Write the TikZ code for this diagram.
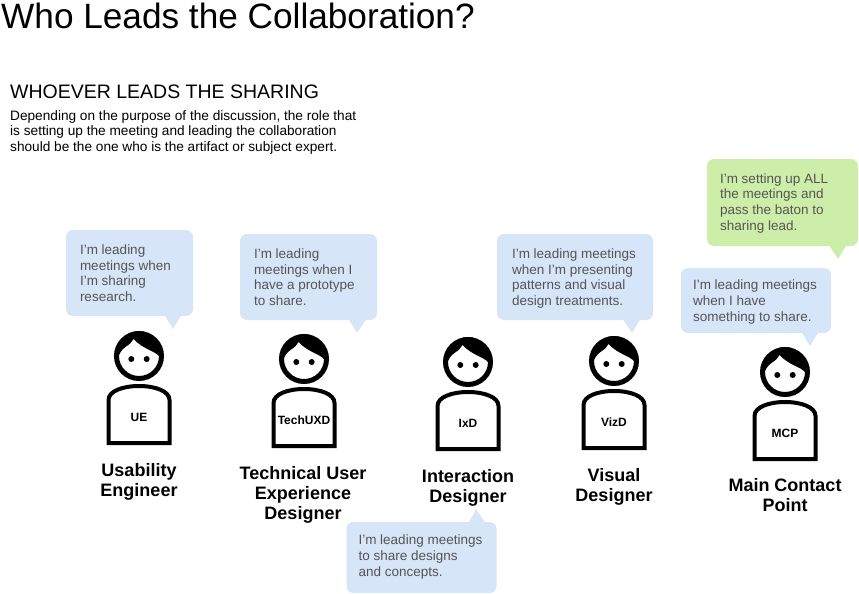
\documentclass[tikz,border=0pt]{standalone}
\usepackage{fontspec}
\setmainfont{Liberation Sans}
\definecolor{bubbleblue}{HTML}{D6E5F7}
\definecolor{bubblegreen}{HTML}{CDEEA8}
\definecolor{bubbletext}{HTML}{555555}
\tikzset{
	bubble/.style={rounded corners=7pt, inner sep=0pt, text=bubbletext, align=flush left, font=\fontsize{13.5}{15.7}\selectfont, execute at begin node={\rule{0pt}{\dimexpr 11pt+#1pt\relax}}, execute at end node=\strut},
	bubble/.default=4,
	rolename/.style={inner sep=0pt, align=center, font=\bfseries\fontsize{18}{20}\selectfont},
	badge/.style={inner sep=0pt, font=\bfseries\fontsize{12}{14}\selectfont},
	person/.pic={
		\draw [line width=5pt, fill=white] (0,0) circle (22.5);
		\fill (-21,2) .. controls (-24,-12) and (-12,-25) .. (0,-25) .. controls (12,-25) and (24,-12) .. (21,1) .. controls (15,-6) and (5,-6) .. (-5.5,-17) .. controls (-8,-10) and (-18,-10) .. (-21,2) -- cycle;
		\fill (-7.7,3) circle (3);
		\fill (7.7,3) circle (3);
		\draw [line width=4pt, line join=miter] (-30.5,87) -- (-30.5,44) .. controls (-30.5,35) and (-16,30) .. (0,30) .. controls (16,30) and (30.5,35) .. (30.5,44) -- (30.5,87) -- cycle;
	}
}
\begin{document}
\begin{tikzpicture}[x=1pt, y=-1pt]
	\useasboundingbox (0,0) rectangle (859,594);
	% headings
	\node [anchor=base west, inner sep=0pt, font=\fontsize{35.2}{40}\selectfont] (title) at (1,29) {Who Leads the Collaboration?};
	\node [anchor=base west, inner sep=0pt, font=\fontsize{19.5}{22}\selectfont] (subtitle) at (10,99) {WHOEVER LEADS THE SHARING};
	\node [anchor=north west, inner sep=0pt, align=left, font=\fontsize{13.65}{15.7}\selectfont] (intro) at (10,110) {Depending on the purpose of the discussion, the role that\\is setting up the meeting and leading the collaboration\\should be the one who is the artifact or subject expert.};
	% people
	\foreach \name/\x/\y/\tag in {ue/139/356/UE, tech/304/359/TechUXD, ixd/468/362/IxD, viz/614/361/VizD, mcp/785/372/MCP} {
		\pic (\name) at (\x,\y) {person};
		\node [badge] (\name badge) at (\x,\y+61) {\tag};
	}
	% names
	\node [rolename] (uename) at (139,482) {Usability\\Engineer};
	\node [rolename] (techname) at (303,494.5) {Technical User\\Experience\\Designer};
	\node [rolename] (ixdname) at (468,488) {Interaction\\Designer};
	\node [rolename] (vizname) at (614,487) {Visual\\Designer};
	\node [rolename] (mcpname) at (785,495) {Main Contact\\Point};
	% speech bubbles
	\fill [bubbleblue] (164,314) -- (173,329) -- (182,314) -- cycle;
	\node [bubble, fill=bubbleblue, minimum width=127pt, minimum height=86pt, text width=99pt] (uesay) at (129.5,273) {I’m leading\\meetings when\\I’m sharing\\research.};
	\fill [bubbleblue] (348,318) -- (357,333) -- (367,318) -- cycle;
	\node [bubble, fill=bubbleblue, minimum width=137pt, minimum height=86pt, text width=109pt] (techsay) at (308.5,277) {I’m leading\\meetings when I\\have a prototype\\to share.};
	\fill [bubbleblue] (468,524) -- (476,509) -- (486,524) -- cycle;
	\node [bubble=0, fill=bubbleblue, minimum width=150pt, minimum height=71pt, text width=126pt] (ixdsay) at (421.5,557.5) {I’m leading meetings\\to share designs\\and concepts.};
	\fill [bubbleblue] (622,318) -- (632,333) -- (641,318) -- cycle;
	\node [bubble, fill=bubbleblue, minimum width=156pt, minimum height=86pt, text width=126pt] (vizsay) at (575,277) {I’m leading meetings\\when I’m presenting\\patterns and visual\\design treatments.};
	\fill [bubblegreen] (828,244) -- (838,259) -- (847,244) -- cycle;
	\node [bubble=2, fill=bubblegreen, minimum width=151pt, minimum height=87pt, text width=125pt] (leadsay) at (782.5,202.5) {I’m setting up ALL\\the meetings and\\pass the baton to\\sharing lead.};
	\fill [bubbleblue] (801,331) -- (810,346) -- (819,331) -- cycle;
	\node [bubble, fill=bubbleblue, minimum width=150pt, minimum height=65pt, text width=126pt] (mcpsay) at (756,300.5) {I’m leading meetings\\when I have\\something to share.};
\end{tikzpicture}
\end{document}
